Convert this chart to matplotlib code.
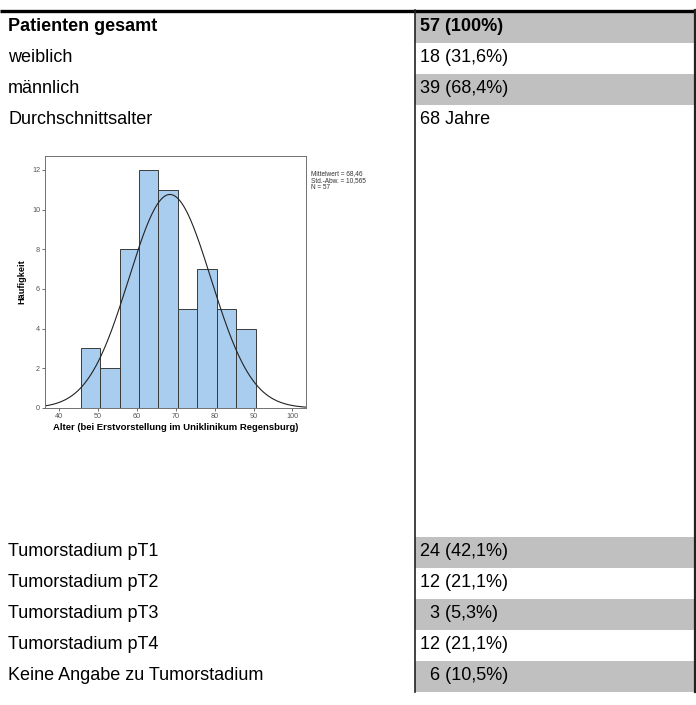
import numpy as np
import matplotlib
matplotlib.use("Agg")
import matplotlib.pyplot as plt
from matplotlib.patches import Rectangle

plt.rcParams['font.family'] = ['Liberation Sans', 'DejaVu Sans']

# table content
top_labels = ["Patienten gesamt", "weiblich", "männlich", "Durchschnittsalter"]
top_values = ["57 (100%)", "18 (31,6%)", "39 (68,4%)", "68 Jahre"]
top_shaded = [True, False, True, False]

stage_labels = ["Tumorstadium pT1", "Tumorstadium pT2", "Tumorstadium pT3",
                "Tumorstadium pT4", "Keine Angabe zu Tumorstadium"]
stage_values = ["24 (42,1%)", "12 (21,1%)", "  3 (5,3%)", "12 (21,1%)", "  6 (10,5%)"]
stage_shaded = [True, False, True, False, True]

# histogram of age at first visit
bin_edges = [45.5, 50.5, 55.5, 60.5, 65.5, 70.5, 75.5, 80.5, 85.5, 90.5]
counts = [3, 2, 8, 12, 11, 5, 7, 5, 4]
age_mean = 68.46
age_sd = 10.565
n_patients = 57

W, H = 696, 705
fig = plt.figure(figsize=(W / 100, H / 100), dpi=100)

# background axes in pixel coordinates for the table
tab = fig.add_axes([0, 0, 1, 1])
tab.set_xlim(0, W)
tab.set_ylim(H, 0)
tab.axis('off')

col_x = 415
right_x = 694.5
row_h = 31
gray = '#c0c0c0'


def draw_rows(labels, values, shaded, y0, bold_first=False):
    for i, (lab, val, sh) in enumerate(zip(labels, values, shaded)):
        top = y0 + i * row_h
        if sh:
            tab.add_patch(Rectangle((col_x, top), right_x - col_x, row_h,
                                    facecolor=gray, edgecolor='none'))
        weight = 'bold' if (bold_first and i == 0) else 'normal'
        tab.text(8, top + 19, lab, fontsize=13, fontweight=weight, va='baseline')
        tab.text(420, top + 19, val, fontsize=13, fontweight=weight, va='baseline')


draw_rows(top_labels, top_values, top_shaded, 12, bold_first=True)
draw_rows(stage_labels, stage_values, stage_shaded, 537)

tab.plot([0, W], [10.5, 10.5], color='black', lw=2.4, solid_capstyle='butt')
tab.plot([col_x, col_x], [10, 692], color='#222222', lw=1.2)
tab.plot([right_x, right_x], [10, 692], color='#222222', lw=1.6)

# histogram inset
hx0, hx1, hy0, hy1 = 45, 306, 156, 408
ax = fig.add_axes([hx0 / W, 1 - hy1 / H, (hx1 - hx0) / W, (hy1 - hy0) / H])
ax.bar(bin_edges[:-1], counts, width=np.diff(bin_edges), align='edge',
       color='#a9cdee', edgecolor='#3a3a3a', linewidth=0.7)

xs = np.linspace(36.3, 103.5, 300)
binw = bin_edges[1] - bin_edges[0]
curve = n_patients * binw / (age_sd * np.sqrt(2 * np.pi)) * np.exp(-0.5 * ((xs - age_mean) / age_sd) ** 2)
ax.plot(xs, curve, color='#222222', lw=0.8)

ax.set_xlim(36.3, 103.5)
ax.set_ylim(0, 12.7)
ax.set_xticks([40, 50, 60, 70, 80, 90, 100])
ax.set_yticks([0, 2, 4, 6, 8, 10, 12])
ax.tick_params(labelsize=5.2, colors='#555555', length=2.5, width=0.6, pad=1)
for s in ax.spines.values():
    s.set_color('#707070')
    s.set_linewidth(0.7)
ax.set_xlabel("Alter (bei Erstvorstellung im Uniklinikum Regensburg)",
              fontsize=6.8, fontweight='bold', labelpad=2)
ax.set_ylabel("Häufigkeit", fontsize=6.6, fontweight='bold', labelpad=4)

fig.text(311 / W, 1 - 170 / H,
         "Mittelwert = 68,46\nStd.-Abw. = 10,565\nN = 57",
         fontsize=4.7, va='top', ha='left', color='#333333', linespacing=1.0)

fig.savefig('out.png', dpi=100)
